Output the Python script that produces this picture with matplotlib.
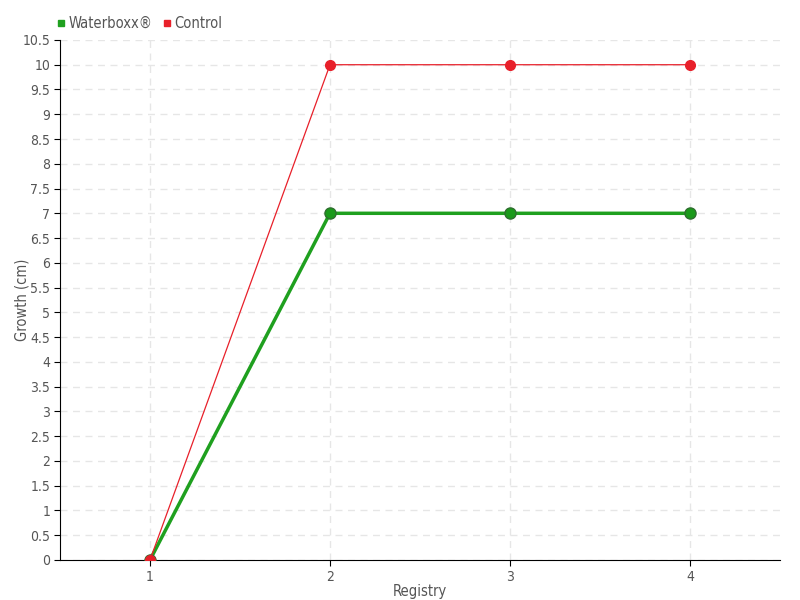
import matplotlib.pyplot as plt
import numpy as np

plt.rcParams['font.family'] = ['DejaVu Sans']
plt.rcParams['font.stretch'] = 'condensed'

registry = [1, 2, 3, 4]
waterboxx = [0, 7, 7, 7]
control = [0, 10, 10, 10]
yticks = np.arange(0, 10.51, 0.5)

fig = plt.figure(figsize=(8, 6), dpi=100)
ax = fig.add_axes([0.075, 0.0667, 0.9, 0.8667])

ax.plot(registry, waterboxx, color='#1fa01f', linewidth=2.5, marker='o', markersize=8,
        markerfacecolor='#1a9a1a', markeredgecolor='#2e6e2e', markeredgewidth=1, zorder=3,
        label='Waterboxx®')
ax.plot(registry, control, color='#e8202a', linewidth=0.9, marker='o', markersize=7,
        markerfacecolor='#e8202a', markeredgecolor='#e8202a', zorder=4, label='Control')

ax.set_xlim(0.5, 4.5)
ax.set_ylim(0, 10.5)
ax.set_xticks(registry)
ax.set_yticks(yticks)
ax.set_yticklabels([f'{v:g}' for v in yticks])
ax.tick_params(labelsize=10, colors='#555555', length=4, pad=3)
ax.tick_params(axis='both', color='black')
ax.grid(True, color='#e6e6e6', linestyle=(0, (5, 4)), linewidth=1)
ax.set_axisbelow(True)
for s in ['top', 'right']:
    ax.spines[s].set_visible(False)
ax.set_xlabel('Registry', fontsize=10.5, color='#555555', labelpad=0)
ax.set_ylabel('Growth (cm)', fontsize=10.5, color='#555555')
ax.yaxis.set_label_coords(-0.042, 0.5)

h1 = plt.Line2D([], [], marker='s', color='#1fa01f', linestyle='none', markersize=5)
h2 = plt.Line2D([], [], marker='s', color='#e8202a', linestyle='none', markersize=5)
fig.legend([h1, h2], ['Waterboxx®', 'Control'], loc='upper left', bbox_to_anchor=(0.053, 0.995),
           ncol=2, frameon=False, fontsize=10.5, handletextpad=0.1, columnspacing=0.6,
           labelcolor='#555555', handlelength=0.8)

fig.savefig('out.png', dpi=100)
